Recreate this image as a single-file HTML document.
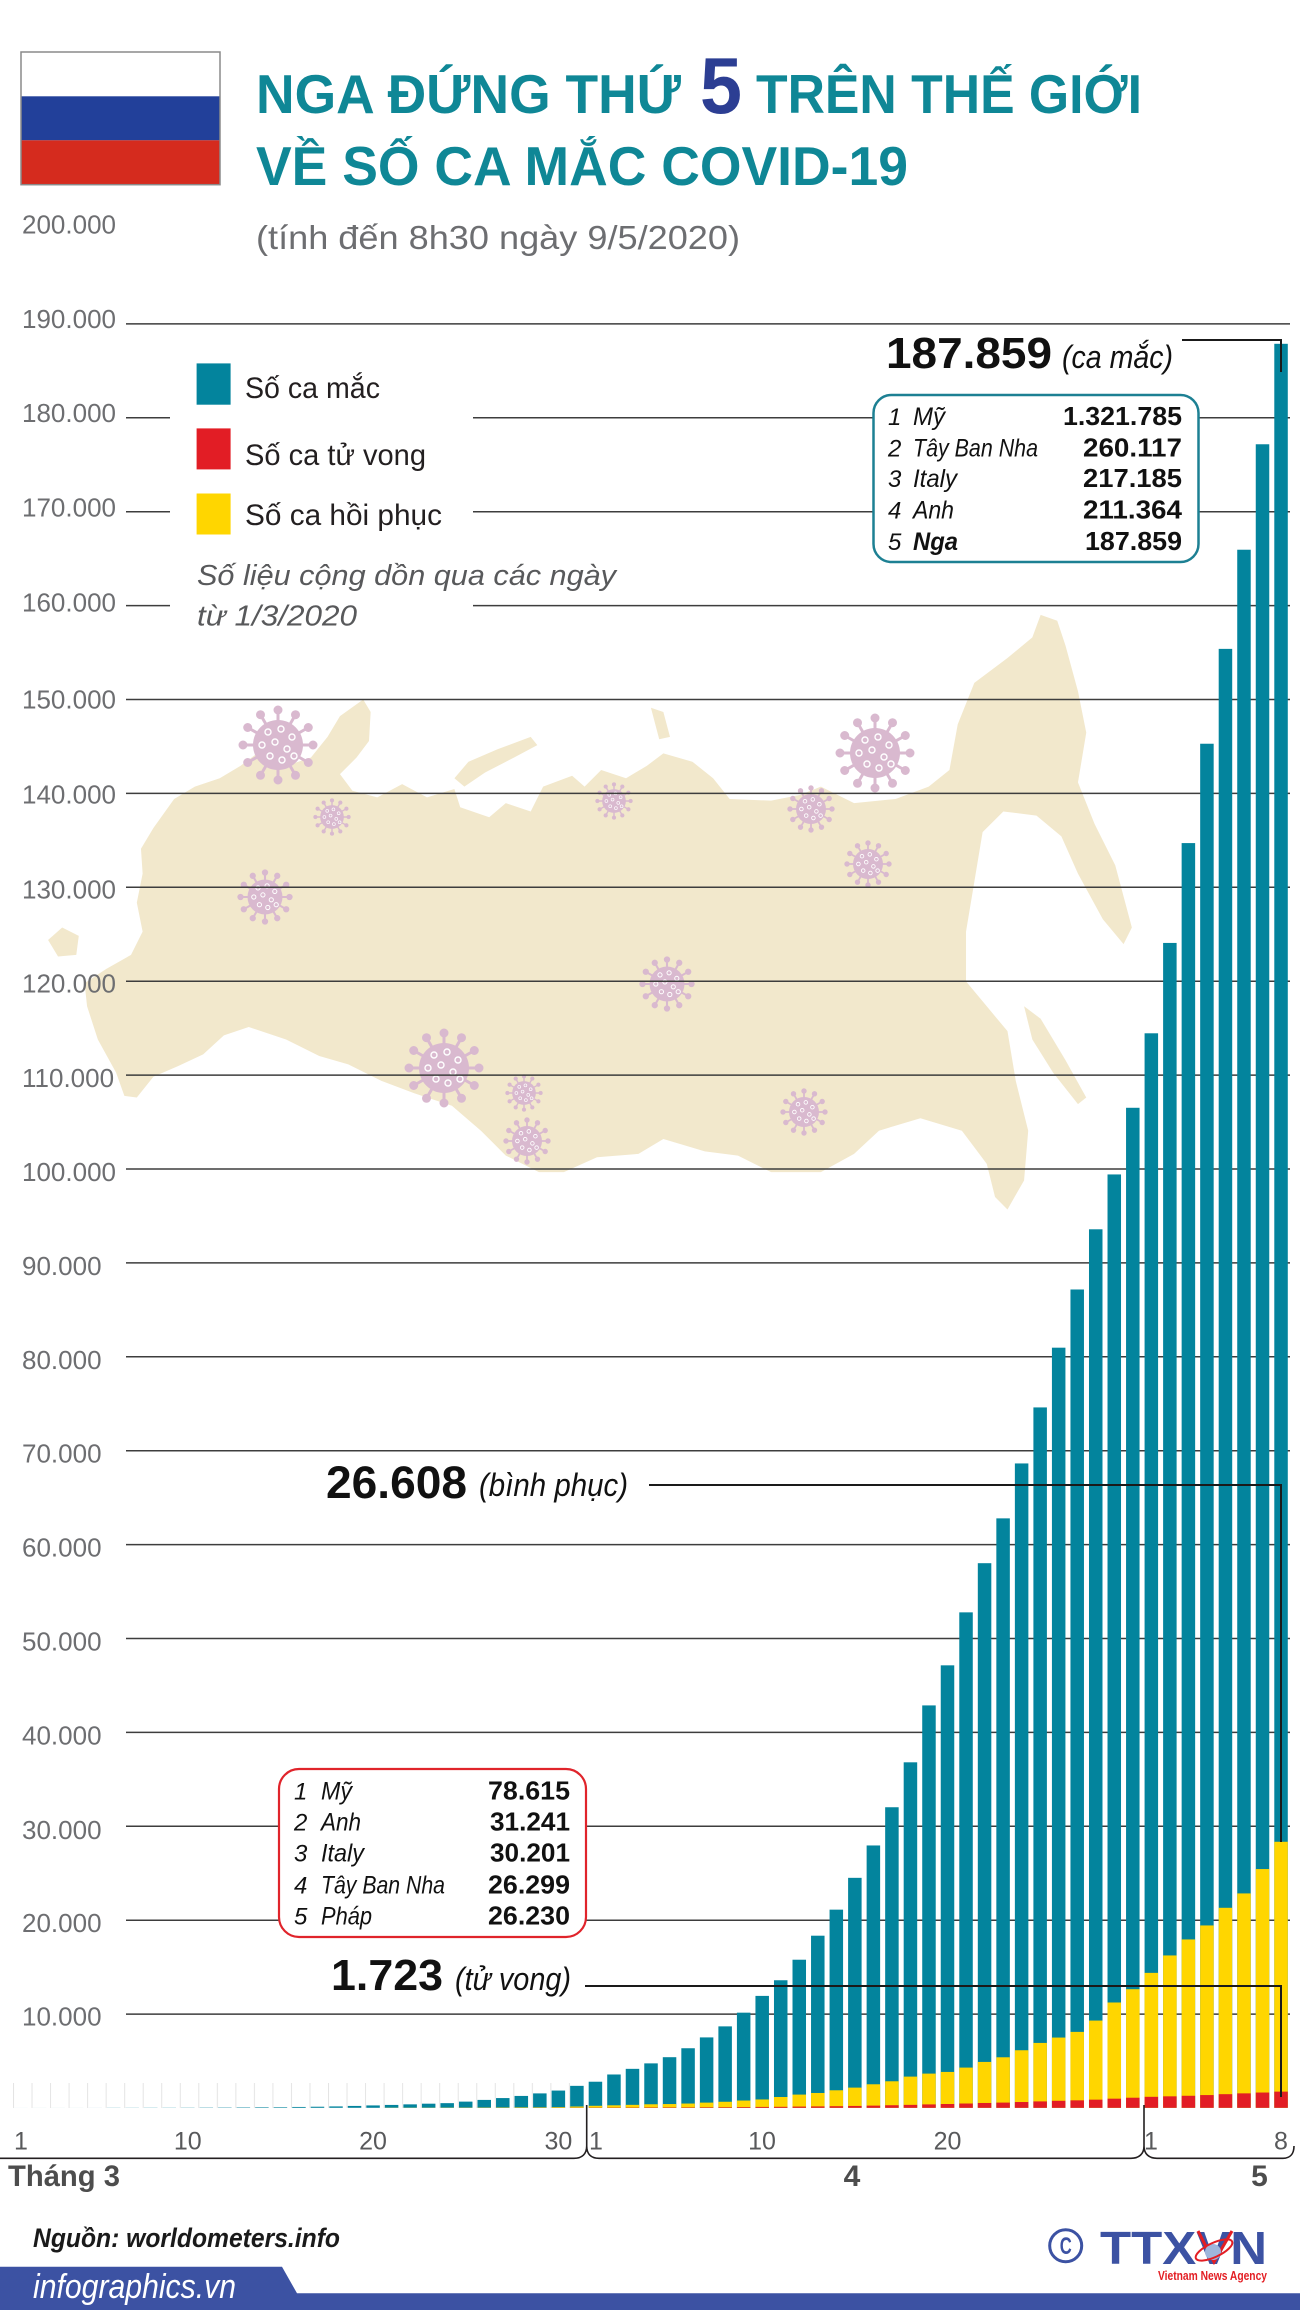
<!DOCTYPE html>
<html><head><meta charset="utf-8"><style>html,body{margin:0;padding:0;background:#fff}svg{display:block}</style></head>
<body>
<svg width="1300" height="2310" viewBox="0 0 1300 2310" xmlns="http://www.w3.org/2000/svg" font-family="'Liberation Sans','DejaVu Sans',sans-serif">
<defs>
<symbol id="vir" viewBox="-40 -40 80 80" overflow="visible">
<g fill="#d9b9cf" stroke="#d9b9cf">
<path stroke-width="3" d="M0 0L35 0M0 0L30.3 17.5M0 0L17.5 30.3M0 0L0 35M0 0L-17.5 30.3M0 0L-30.3 17.5M0 0L-35 0M0 0L-30.3 -17.5M0 0L-17.5 -30.3M0 0L0 -35M0 0L17.5 -30.3M0 0L30.3 -17.5"/>
<circle r="25" stroke="none"/>
<circle cx="35" cy="0" r="4"/><circle cx="30.3" cy="17.5" r="4"/><circle cx="17.5" cy="30.3" r="4"/><circle cx="0" cy="35" r="4"/><circle cx="-17.5" cy="30.3" r="4"/><circle cx="-30.3" cy="17.5" r="4"/><circle cx="-35" cy="0" r="4"/><circle cx="-30.3" cy="-17.5" r="4"/><circle cx="-17.5" cy="-30.3" r="4"/><circle cx="0" cy="-35" r="4"/><circle cx="17.5" cy="-30.3" r="4"/><circle cx="30.3" cy="-17.5" r="4"/>
</g>
<g fill="none" stroke="#fff" stroke-width="1.4">
<circle cx="-10" cy="-13" r="3"/><circle cx="3" cy="-16" r="3"/><circle cx="14" cy="-8" r="3"/><circle cx="-16" cy="0" r="3"/><circle cx="-3" cy="-3" r="3"/><circle cx="9" cy="4" r="3"/><circle cx="-8" cy="11" r="3"/><circle cx="4" cy="15" r="3"/><circle cx="16" cy="11" r="3"/>
</g>
</symbol>
<pattern id="st" x="13" y="0" width="18.53" height="30" patternUnits="userSpaceOnUse"><rect width="1" height="30" fill="#e4e4e4"/></pattern>
</defs>

<!-- flag -->
<rect x="21" y="52" width="199" height="44.3" fill="#ffffff"/>
<rect x="21" y="96.3" width="199" height="44" fill="#22409a"/>
<rect x="21" y="140.3" width="199" height="44.4" fill="#d52b1e"/>
<rect x="21" y="52" width="199" height="132.7" fill="none" stroke="#8a8a8a" stroke-width="1.5"/>

<!-- title -->
<text x="256" y="113" font-size="55" font-weight="bold" fill="#0f8796" textLength="425" lengthAdjust="spacingAndGlyphs">NGA ĐỨNG THỨ</text>
<text x="700" y="113" font-size="80" font-weight="bold" fill="#2c3e93" textLength="42" lengthAdjust="spacingAndGlyphs">5</text>
<text x="756" y="113" font-size="55" font-weight="bold" fill="#0f8796" textLength="386" lengthAdjust="spacingAndGlyphs">TRÊN THẾ GIỚI</text>
<text x="256" y="185" font-size="55" font-weight="bold" fill="#0f8796" textLength="652" lengthAdjust="spacingAndGlyphs">VỀ SỐ CA MẮC COVID-19</text>
<text x="256" y="249" font-size="33" fill="#6d6e71" textLength="484" lengthAdjust="spacingAndGlyphs">(tính đến 8h30 ngày 9/5/2020)</text>

<!-- map -->
<g transform="translate(0,600) scale(0.8292)" fill="#f2e8cc">
<polygon points="150,598 140,570 118,530 105,490 102,462 128,445 158,428 172,400 165,365 172,330 170,300 185,275 210,240 235,225 265,215 290,200 310,185 345,200 375,190 395,165 410,140 438,120 447,135 445,170 430,190 410,210 425,230 455,238 485,222 515,238 548,228 555,250 590,262 610,245 640,255 655,225 690,212 705,225 725,205 755,215 780,200 800,185 835,195 860,215 880,240 930,242 965,235 990,225 1030,245 1080,240 1120,225 1145,205 1155,150 1175,100 1215,70 1245,45 1255,18 1275,25 1285,55 1300,110 1310,160 1300,220 1320,270 1345,320 1365,395 1355,415 1330,385 1300,330 1280,285 1250,260 1210,255 1185,280 1175,340 1165,400 1165,460 1190,490 1215,520 1225,580 1240,640 1235,700 1215,735 1200,720 1190,680 1160,640 1110,625 1060,640 1030,668 990,690 930,690 890,670 850,665 800,650 770,668 720,672 680,690 650,690 610,670 580,640 545,610 500,595 460,580 420,560 385,550 345,530 300,515 270,525 245,548 215,562 185,575 165,600"/>
<polygon points="58,410 75,395 95,405 92,428 70,430"/>
<polygon points="1235,490 1255,505 1285,555 1310,600 1300,608 1270,570 1245,530"/>
<polygon points="548,215 565,195 600,180 640,165 648,175 620,190 585,208 560,225"/>
<polygon points="785,130 800,135 808,165 795,168"/>
</g>

<!-- viruses -->
<use href="#vir" x="238" y="705" width="80" height="80"/>
<use href="#vir" x="835" y="713" width="80" height="80"/>
<use href="#vir" x="404" y="1028" width="80" height="80"/>
<use href="#vir" x="237" y="869" width="56" height="56"/>
<use href="#vir" x="639" y="956" width="56" height="56"/>
<use href="#vir" x="787" y="785" width="48" height="48"/>
<use href="#vir" x="844" y="840" width="48" height="48"/>
<use href="#vir" x="780" y="1088" width="48" height="48"/>
<use href="#vir" x="503" y="1117" width="48" height="48"/>
<use href="#vir" x="313" y="798" width="38" height="38"/>
<use href="#vir" x="595" y="782" width="38" height="38"/>
<use href="#vir" x="505" y="1074" width="38" height="38"/>

<!-- gridlines -->
<path fill="none" stroke="#3d3d3d" stroke-width="1.5" d="M126 323.9H1290M126 417.8H170M473 417.8H1290M126 511.7H170M473 511.7H1290M126 605.6H170M473 605.6H1290M126 699.5H1290M126 793.4H1290M126 887.3H1290M126 981.2H1290M126 1075.1H1290M126 1169H1290M126 1262.9H1290M126 1356.8H1290M126 1450.7H1290M126 1544.6H1290M126 1638.5H1290M126 1732.4H1290M126 1826.3H1290M126 1920.2H1290M126 2014.1H1290"/>

<!-- y labels -->
<g font-size="26" fill="#6d6e71">
<text x="22" y="233.3">200.000</text>
<text x="22" y="328">190.000</text>
<text x="22" y="422">180.000</text>
<text x="22" y="516.5">170.000</text>
<text x="22" y="611.5">160.000</text>
<text x="22" y="708.5">150.000</text>
<text x="22" y="803.4">140.000</text>
<text x="22" y="898.3">130.000</text>
<text x="22" y="992.7">120.000</text>
<text x="22" y="1087.1">110.000</text>
<text x="22" y="1181">100.000</text>
<text x="22" y="1274.9">90.000</text>
<text x="22" y="1368.8">80.000</text>
<text x="22" y="1462.7">70.000</text>
<text x="22" y="1556.6">60.000</text>
<text x="22" y="1650.5">50.000</text>
<text x="22" y="1744.4">40.000</text>
<text x="22" y="1838.8">30.000</text>
<text x="22" y="1932.2">20.000</text>
<text x="22" y="2025.5">10.000</text>
</g>

<!-- stripes -->
<rect x="12" y="2083" width="570" height="25" fill="url(#st)"/>

<!-- bars -->
<g transform="matrix(18.53 0 0 -0.00939 14.25 2107.8)">
<g fill="#03849d">
<rect x="0" width=".7286" height="2"/><rect x="1" width=".7286" height="3"/><rect x="2" width=".7286" height="3"/><rect x="3" width=".7286" height="3"/><rect x="4" width=".7286" height="4"/><rect x="5" width=".7286" height="13"/><rect x="6" width=".7286" height="13"/><rect x="7" width=".7286" height="17"/><rect x="8" width=".7286" height="17"/><rect x="9" width=".7286" height="20"/>
<rect x="10" width=".7286" height="28"/><rect x="11" width=".7286" height="34"/><rect x="12" width=".7286" height="45"/><rect x="13" width=".7286" height="59"/><rect x="14" width=".7286" height="63"/><rect x="15" width=".7286" height="90"/><rect x="16" width=".7286" height="114"/><rect x="17" width=".7286" height="147"/><rect x="18" width=".7286" height="199"/><rect x="19" width=".7286" height="253"/>
<rect x="20" width=".7286" height="306"/><rect x="21" width=".7286" height="367"/><rect x="22" width=".7286" height="438"/><rect x="23" width=".7286" height="495"/><rect x="24" width=".7286" height="658"/><rect x="25" width=".7286" height="840"/><rect x="26" width=".7286" height="1036"/><rect x="27" width=".7286" height="1264"/><rect x="28" width=".7286" height="1534"/><rect x="29" width=".7286" height="1836"/>
<rect x="30" width=".7286" height="2337"/><rect x="31" width=".7286" height="2777"/><rect x="32" width=".7286" height="3548"/><rect x="33" width=".7286" height="4149"/><rect x="34" width=".7286" height="4731"/><rect x="35" width=".7286" height="5389"/><rect x="36" width=".7286" height="6343"/><rect x="37" width=".7286" height="7497"/><rect x="38" width=".7286" height="8672"/><rect x="39" width=".7286" height="10131"/>
<rect x="40" width=".7286" height="11917"/><rect x="41" width=".7286" height="13584"/><rect x="42" width=".7286" height="15770"/><rect x="43" width=".7286" height="18328"/><rect x="44" width=".7286" height="21102"/><rect x="45" width=".7286" height="24490"/><rect x="46" width=".7286" height="27938"/><rect x="47" width=".7286" height="32008"/><rect x="48" width=".7286" height="36793"/><rect x="49" width=".7286" height="42853"/>
<rect x="50" width=".7286" height="47121"/><rect x="51" width=".7286" height="52763"/><rect x="52" width=".7286" height="57999"/><rect x="53" width=".7286" height="62773"/><rect x="54" width=".7286" height="68622"/><rect x="55" width=".7286" height="74588"/><rect x="56" width=".7286" height="80949"/><rect x="57" width=".7286" height="87147"/><rect x="58" width=".7286" height="93558"/><rect x="59" width=".7286" height="99399"/>
<rect x="60" width=".7286" height="106498"/><rect x="61" width=".7286" height="114431"/><rect x="62" width=".7286" height="124054"/><rect x="63" width=".7286" height="134687"/><rect x="64" width=".7286" height="145268"/><rect x="65" width=".7286" height="155370"/><rect x="66" width=".7286" height="165929"/><rect x="67" width=".7286" height="177160"/><rect x="68" width=".7286" height="187859"/>
</g>
<g fill="#ffd600">
<rect x="20" width=".7286" height="15"/><rect x="21" width=".7286" height="16"/><rect x="22" width=".7286" height="17"/><rect x="23" width=".7286" height="22"/><rect x="24" width=".7286" height="25"/><rect x="25" width=".7286" height="32"/><rect x="26" width=".7286" height="40"/><rect x="27" width=".7286" height="50"/><rect x="28" width=".7286" height="53"/><rect x="29" width=".7286" height="75"/>
<rect x="30" width=".7286" height="138"/><rect x="31" width=".7286" height="214"/><rect x="32" width=".7286" height="265"/><rect x="33" width=".7286" height="315"/><rect x="34" width=".7286" height="376"/><rect x="35" width=".7286" height="400"/><rect x="36" width=".7286" height="453"/><rect x="37" width=".7286" height="552"/><rect x="38" width=".7286" height="643"/><rect x="39" width=".7286" height="774"/>
<rect x="40" width=".7286" height="889"/><rect x="41" width=".7286" height="1151"/><rect x="42" width=".7286" height="1407"/><rect x="43" width=".7286" height="1578"/><rect x="44" width=".7286" height="1866"/><rect x="45" width=".7286" height="2150"/><rect x="46" width=".7286" height="2505"/><rect x="47" width=".7286" height="2825"/><rect x="48" width=".7286" height="3322"/><rect x="49" width=".7286" height="3642"/>
<rect x="50" width=".7286" height="3820"/><rect x="51" width=".7286" height="4282"/><rect x="52" width=".7286" height="4886"/><rect x="53" width=".7286" height="5380"/><rect x="54" width=".7286" height="6130"/><rect x="55" width=".7286" height="6910"/><rect x="56" width=".7286" height="7480"/><rect x="57" width=".7286" height="8085"/><rect x="58" width=".7286" height="9290"/><rect x="59" width=".7286" height="11215"/>
<rect x="60" width=".7286" height="12630"/><rect x="61" width=".7286" height="14370"/><rect x="62" width=".7286" height="16225"/><rect x="63" width=".7286" height="17930"/><rect x="64" width=".7286" height="19420"/><rect x="65" width=".7286" height="21300"/><rect x="66" width=".7286" height="22830"/><rect x="67" width=".7286" height="25425"/><rect x="68" width=".7286" height="28331"/>
</g>
<g fill="#e21d25">
<rect x="18" width=".7286" height="1"/><rect x="19" width=".7286" height="1"/><rect x="20" width=".7286" height="1"/><rect x="21" width=".7286" height="1"/><rect x="22" width=".7286" height="1"/><rect x="23" width=".7286" height="1"/><rect x="24" width=".7286" height="3"/><rect x="25" width=".7286" height="3"/><rect x="26" width=".7286" height="4"/><rect x="27" width=".7286" height="4"/><rect x="28" width=".7286" height="8"/><rect x="29" width=".7286" height="9"/>
<rect x="30" width=".7286" height="17"/><rect x="31" width=".7286" height="24"/><rect x="32" width=".7286" height="30"/><rect x="33" width=".7286" height="34"/><rect x="34" width=".7286" height="43"/><rect x="35" width=".7286" height="45"/><rect x="36" width=".7286" height="47"/><rect x="37" width=".7286" height="58"/><rect x="38" width=".7286" height="63"/><rect x="39" width=".7286" height="76"/>
<rect x="40" width=".7286" height="94"/><rect x="41" width=".7286" height="106"/><rect x="42" width=".7286" height="130"/><rect x="43" width=".7286" height="148"/><rect x="44" width=".7286" height="170"/><rect x="45" width=".7286" height="198"/><rect x="46" width=".7286" height="232"/><rect x="47" width=".7286" height="273"/><rect x="48" width=".7286" height="313"/><rect x="49" width=".7286" height="361"/>
<rect x="50" width=".7286" height="405"/><rect x="51" width=".7286" height="456"/><rect x="52" width=".7286" height="513"/><rect x="53" width=".7286" height="555"/><rect x="54" width=".7286" height="615"/><rect x="55" width=".7286" height="681"/><rect x="56" width=".7286" height="747"/><rect x="57" width=".7286" height="794"/><rect x="58" width=".7286" height="867"/><rect x="59" width=".7286" height="972"/>
<rect x="60" width=".7286" height="1073"/><rect x="61" width=".7286" height="1169"/><rect x="62" width=".7286" height="1222"/><rect x="63" width=".7286" height="1280"/><rect x="64" width=".7286" height="1356"/><rect x="65" width=".7286" height="1451"/><rect x="66" width=".7286" height="1537"/><rect x="67" width=".7286" height="1625"/><rect x="68" width=".7286" height="1723"/>
</g>
</g>

<!-- leader lines -->
<path fill="none" stroke="#1a1a1a" stroke-width="2" d="M1182 340H1281V372M649 1485H1281V1842M585 1986H1281V2097"/>

<!-- legend -->
<rect x="196.6" y="363.4" width="34" height="41.3" fill="#03849d"/>
<rect x="196.6" y="428.4" width="34" height="41" fill="#e21d25"/>
<rect x="196.6" y="493.5" width="34" height="41" fill="#ffd600"/>
<g font-size="30" fill="#231f20">
<text x="245" y="398" textLength="135" lengthAdjust="spacingAndGlyphs">Số ca mắc</text>
<text x="245" y="465" textLength="181" lengthAdjust="spacingAndGlyphs">Số ca tử vong</text>
<text x="245" y="525" textLength="197" lengthAdjust="spacingAndGlyphs">Số ca hồi phục</text>
</g>
<g font-size="29" font-style="italic" fill="#58595b">
<text x="197" y="585" textLength="419" lengthAdjust="spacingAndGlyphs">Số liệu cộng dồn qua các ngày</text>
<text x="197" y="625.5" textLength="160" lengthAdjust="spacingAndGlyphs">từ 1/3/2020</text>
</g>

<!-- top annotation -->
<text x="886" y="368" font-size="44" font-weight="bold" fill="#111" textLength="166" lengthAdjust="spacingAndGlyphs">187.859</text>
<text x="1062" y="368" font-size="32" font-style="italic" fill="#111" textLength="111" lengthAdjust="spacingAndGlyphs">(ca mắc)</text>

<!-- top box -->
<rect x="873.5" y="395" width="325" height="167" rx="18" fill="#fff" stroke="#1d8093" stroke-width="2.5"/>
<g font-size="24" font-style="italic" fill="#111">
<text x="888" y="425">1</text><text x="888" y="456.5">2</text><text x="888" y="487">3</text><text x="888" y="518.5">4</text><text x="888" y="550">5</text>
</g>
<g font-size="25" font-style="italic" fill="#111">
<text x="913" y="425" textLength="32" lengthAdjust="spacingAndGlyphs">Mỹ</text>
<text x="913" y="456.5" textLength="125" lengthAdjust="spacingAndGlyphs">Tây Ban Nha</text>
<text x="913" y="487" textLength="44" lengthAdjust="spacingAndGlyphs">Italy</text>
<text x="913" y="518.5" textLength="41" lengthAdjust="spacingAndGlyphs">Anh</text>
<text x="913" y="550" font-weight="bold" textLength="45" lengthAdjust="spacingAndGlyphs">Nga</text>
</g>
<g font-size="26" font-weight="bold" fill="#111" text-anchor="end">
<text x="1182" y="425" textLength="119" lengthAdjust="spacingAndGlyphs">1.321.785</text>
<text x="1182" y="456.5" textLength="99" lengthAdjust="spacingAndGlyphs">260.117</text>
<text x="1182" y="487" textLength="99" lengthAdjust="spacingAndGlyphs">217.185</text>
<text x="1182" y="518.5" textLength="99" lengthAdjust="spacingAndGlyphs">211.364</text>
<text x="1182" y="550" textLength="97" lengthAdjust="spacingAndGlyphs">187.859</text>
</g>

<!-- recovered annotation -->
<text x="326" y="1498" font-size="45" font-weight="bold" fill="#111" textLength="141" lengthAdjust="spacingAndGlyphs">26.608</text>
<text x="479" y="1496" font-size="32" font-style="italic" fill="#111" textLength="149" lengthAdjust="spacingAndGlyphs">(bình phục)</text>

<!-- red box -->
<rect x="279" y="1769" width="307" height="168" rx="20" fill="#fff" stroke="#e0242b" stroke-width="2.2"/>
<g font-size="24" font-style="italic" fill="#111">
<text x="294" y="1799.3">1</text><text x="294" y="1830.7">2</text><text x="294" y="1861.7">3</text><text x="294" y="1893.3">4</text><text x="294" y="1924.3">5</text>
</g>
<g font-size="25" font-style="italic" fill="#111">
<text x="321" y="1799.3" textLength="31" lengthAdjust="spacingAndGlyphs">Mỹ</text>
<text x="321" y="1830.7" textLength="40" lengthAdjust="spacingAndGlyphs">Anh</text>
<text x="321" y="1861.7" textLength="43" lengthAdjust="spacingAndGlyphs">Italy</text>
<text x="321" y="1893.3" textLength="124" lengthAdjust="spacingAndGlyphs">Tây Ban Nha</text>
<text x="321" y="1924.3" textLength="51" lengthAdjust="spacingAndGlyphs">Pháp</text>
</g>
<g font-size="26" font-weight="bold" fill="#111" text-anchor="end">
<text x="570" y="1799.3" textLength="82" lengthAdjust="spacingAndGlyphs">78.615</text>
<text x="570" y="1830.7" textLength="80" lengthAdjust="spacingAndGlyphs">31.241</text>
<text x="570" y="1861.7" textLength="80" lengthAdjust="spacingAndGlyphs">30.201</text>
<text x="570" y="1893.3" textLength="82" lengthAdjust="spacingAndGlyphs">26.299</text>
<text x="570" y="1924.3" textLength="82" lengthAdjust="spacingAndGlyphs">26.230</text>
</g>

<!-- death annotation -->
<text x="331" y="1990" font-size="44" font-weight="bold" fill="#111" textLength="112" lengthAdjust="spacingAndGlyphs">1.723</text>
<text x="455" y="1990" font-size="32" font-style="italic" fill="#111" textLength="116" lengthAdjust="spacingAndGlyphs">(tử vong)</text>

<!-- x axis labels -->
<g font-size="25" fill="#58595b" text-anchor="middle">
<text x="21" y="2149.5">1</text>
<text x="187.8" y="2149.5">10</text>
<text x="373" y="2149.5">20</text>
<text x="558.4" y="2149.5">30</text>
<text x="596" y="2149.5">1</text>
<text x="762" y="2149.5">10</text>
<text x="947.5" y="2149.5">20</text>
<text x="1151" y="2149.5">1</text>
<text x="1281" y="2149.5">8</text>
</g>
<path fill="none" stroke="#231f20" stroke-width="1.6" d="M0 2158.3H574C582 2158.3 586.7 2154 586.7 2146C586.7 2154 591 2158.3 599 2158.3H1131C1139 2158.3 1144 2154 1144 2146C1144 2154 1149 2158.3 1157 2158.3H1283C1290 2158.3 1294 2154 1294 2146M586.7 2146V2105M1144 2146V2105"/>
<g font-size="30" font-weight="bold" fill="#4d4d4d">
<text x="8" y="2186" textLength="112" lengthAdjust="spacingAndGlyphs">Tháng 3</text>
<text x="852" y="2186" text-anchor="middle">4</text>
<text x="1259.5" y="2186" text-anchor="middle">5</text>
</g>

<!-- footer -->
<text x="33" y="2247" font-size="27" font-weight="bold" font-style="italic" fill="#1a1a1a" textLength="307" lengthAdjust="spacingAndGlyphs">Nguồn: worldometers.info</text>
<path d="M0 2266.7H282L297 2293.3H1300V2310H0Z" fill="#3c52a3"/>
<text x="33" y="2298" font-size="34" font-style="italic" fill="#fff" textLength="203" lengthAdjust="spacingAndGlyphs">infographics.vn</text>

<!-- logo -->
<circle cx="1065.7" cy="2245.7" r="16" fill="none" stroke="#3c52a3" stroke-width="3"/>
<text x="1065.7" y="2254" font-size="24" font-weight="bold" fill="#3c52a3" text-anchor="middle" textLength="12" lengthAdjust="spacingAndGlyphs">C</text>
<text x="1100" y="2264" font-size="46" font-weight="bold" fill="#3c52a3" textLength="167" lengthAdjust="spacingAndGlyphs">TTXVN</text>
<path d="M1198 2231L1214 2262L1232 2231" fill="none" stroke="#e31e24" stroke-width="3"/>
<circle cx="1213" cy="2252" r="8" fill="#9fb6dc"/>
<ellipse cx="1214" cy="2250" rx="20" ry="7" fill="none" stroke="#e31e24" stroke-width="2" transform="rotate(-25 1214 2250)"/>
<text x="1158" y="2280" font-size="13" font-weight="bold" fill="#e31e24" textLength="109" lengthAdjust="spacingAndGlyphs">Vietnam News Agency</text>
</svg>
</body></html>
